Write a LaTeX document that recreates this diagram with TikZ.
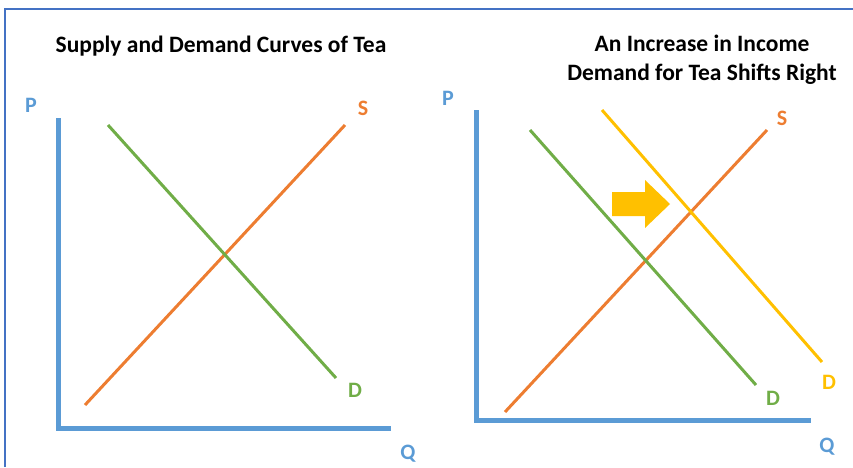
\documentclass[tikz,border=0pt]{standalone}
\usepackage{fontspec}
\setmainfont{Carlito}
\definecolor{axblue}{HTML}{5B9BD5}
\definecolor{sorange}{HTML}{ED7D31}
\definecolor{dgreen}{HTML}{70AD47}
\definecolor{dyellow}{HTML}{FFC000}
\definecolor{frameblue}{HTML}{4472C4}
\begin{document}
\begin{tikzpicture}[x=1pt,y=-1pt,
  axis/.style={axblue,line width=5pt},
  curve/.style={line width=3pt},
  lab/.style={font=\bfseries\fontsize{22}{26}\selectfont,inner sep=0pt},
  ttl/.style={font=\bfseries\fontsize{23.5}{29}\selectfont,inner sep=0pt,align=center}]
\useasboundingbox (0,0) rectangle (853,467);
\draw[frameblue,line width=1.2pt] (5,467) -- (5,9) -- (853,9);
% titles
\node[ttl] (t1) at (221,46) {Supply and Demand Curves of Tea};
\node[ttl] (t2) at (702,60) {An Increase in Income\\Demand for Tea Shifts Right};
% left panel
\coordinate (la) at (58,118);
\coordinate (lo) at (58,428);
\coordinate (lb) at (391,428);
\draw[axis] (la) -- (lo) -- (lb);
\node[lab,axblue] (lp) at (31,105) {P};
\node[lab,axblue] (lq) at (408,454) {Q};
\coordinate (ls1) at (85,405);
\coordinate (ls2) at (345,125);
\draw[curve,sorange] (ls1) -- (ls2);
\node[lab,sorange] (lsl) at (363,108) {S};
\coordinate (ld1) at (108,125);
\coordinate (ld2) at (336,378);
\draw[curve,dgreen] (ld1) -- (ld2);
\node[lab,dgreen] (ldl) at (355,390) {D};
% right panel
\coordinate (ra) at (476,110);
\coordinate (ro) at (476,420);
\coordinate (rb) at (811,420);
\draw[axis] (ra) -- (ro) -- (rb);
\node[lab,axblue] (rp) at (448,98) {P};
\node[lab,axblue] (rq) at (827,447) {Q};
\coordinate (rs1) at (505,412);
\coordinate (rs2) at (767,130);
\draw[curve,sorange] (rs1) -- (rs2);
\node[lab,sorange] (rsl) at (782,118) {S};
\coordinate (rd1) at (530,130);
\coordinate (rd2) at (756,385);
\draw[curve,dgreen] (rd1) -- (rd2);
\node[lab,dgreen] (rdl) at (773,398) {D};
\coordinate (ry1) at (602,110);
\coordinate (ry2) at (822,362);
\draw[curve,dyellow] (ry1) -- (ry2);
\node[lab,dyellow] (ryl) at (829,382) {D};
% shift arrow
\fill[dyellow] (612,192) -- (645,192) -- (645,180) -- (670,204) -- (645,228) -- (645,216) -- (612,216) -- cycle;
\end{tikzpicture}
\end{document}
